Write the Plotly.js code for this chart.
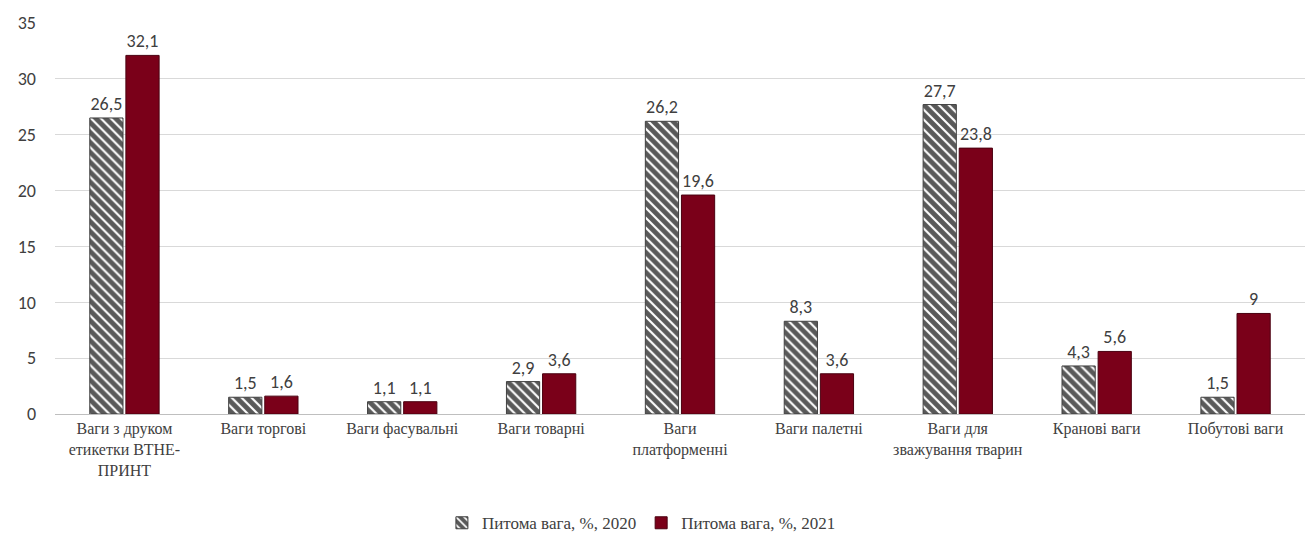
<!DOCTYPE html>
<html>
<head>
<meta charset="utf-8">
<script src="https://cdn.plot.ly/plotly-3.0.1.min.js"></script>
<style>html,body{margin:0;padding:0;background:#fff;}#chart{width:1309px;height:535px;}</style>
</head>
<body>
<div id="chart"></div>
<script>
const categories = [
  "Ваги з друком<br>етикетки ВТНЕ-<br>ПРИНТ",
  "Ваги торгові",
  "Ваги фасувальні",
  "Ваги товарні",
  "Ваги<br>платформенні",
  "Ваги палетні",
  "Ваги для<br>зважування тварин",
  "Кранові ваги",
  "Побутові ваги"
];
const values2020 = [26.5, 1.5, 1.1, 2.9, 26.2, 8.3, 27.7, 4.3, 1.5];
const values2021 = [32.1, 1.6, 1.1, 3.6, 19.6, 3.6, 23.8, 5.6, 9];
const seriesNames = ["Питома вага, %, 2020", "Питома вага, %, 2021"];
const yTicks = [0, 5, 10, 15, 20, 25, 30, 35];

const fmt = v => String(v).replace('.', ',');
const SERIF = 'Liberation Serif, Times New Roman, serif';
const SANS = 'Carlito, Liberation Sans, Arial, sans-serif';

const traces = [
  {
    type: 'bar', x: categories, y: values2020, name: seriesNames[0],
    text: values2020.map(fmt), textposition: 'outside', cliponaxis: false,
    textfont: {family: SANS, size: 18, color: '#404040'},
    marker: {color: '#595959', line: {color: '#404040', width: 1},
      pattern: {shape: '\\', bgcolor: '#595959', fgcolor: '#ffffff', size: 7, solidity: 0.3, fillmode: 'replace'}}
  },
  {
    type: 'bar', x: categories, y: values2021, name: seriesNames[1],
    text: values2021.map(fmt), textposition: 'outside', cliponaxis: false,
    textfont: {family: SANS, size: 18, color: '#404040'},
    marker: {color: '#7a0019', line: {color: '#4a0010', width: 1}}
  }
];

const layout = {
  width: 1309, height: 535,
  margin: {l: 55, r: 4, t: 23, b: 121},
  paper_bgcolor: '#ffffff', plot_bgcolor: '#ffffff',
  barmode: 'group', bargap: 0.48, bargroupgap: 0.08,
  showlegend: true,
  legend: {orientation: 'h', x: 0.49, xanchor: 'center', xref: 'container', yref: 'container', y: 0.022, yanchor: 'middle',
    font: {family: SERIF, size: 17, color: '#404040'},
    traceorder: 'normal'},
  xaxis: {
    automargin: false,
    tickfont: {family: SERIF, size: 16, color: '#404040'},
    showline: true, linecolor: '#bfbfbf', linewidth: 1, ticks: '', tickangle: 0
  },
  yaxis: {
    automargin: false,
    range: [0, 35], tickvals: yTicks, ticktext: yTicks.map(String),
    tickfont: {family: SANS, size: 18, color: '#404040'},
    showgrid: true, gridcolor: '#d9d9d9', gridwidth: 1, zeroline: true, zerolinecolor: '#bfbfbf',
    ticks: '', ticklabelstandoff: 18
  },
  font: {family: SANS, color: '#404040'}
};

Plotly.newPlot('chart', traces, layout, {displayModeBar: false, staticPlot: true});
</script>
</body>
</html>
